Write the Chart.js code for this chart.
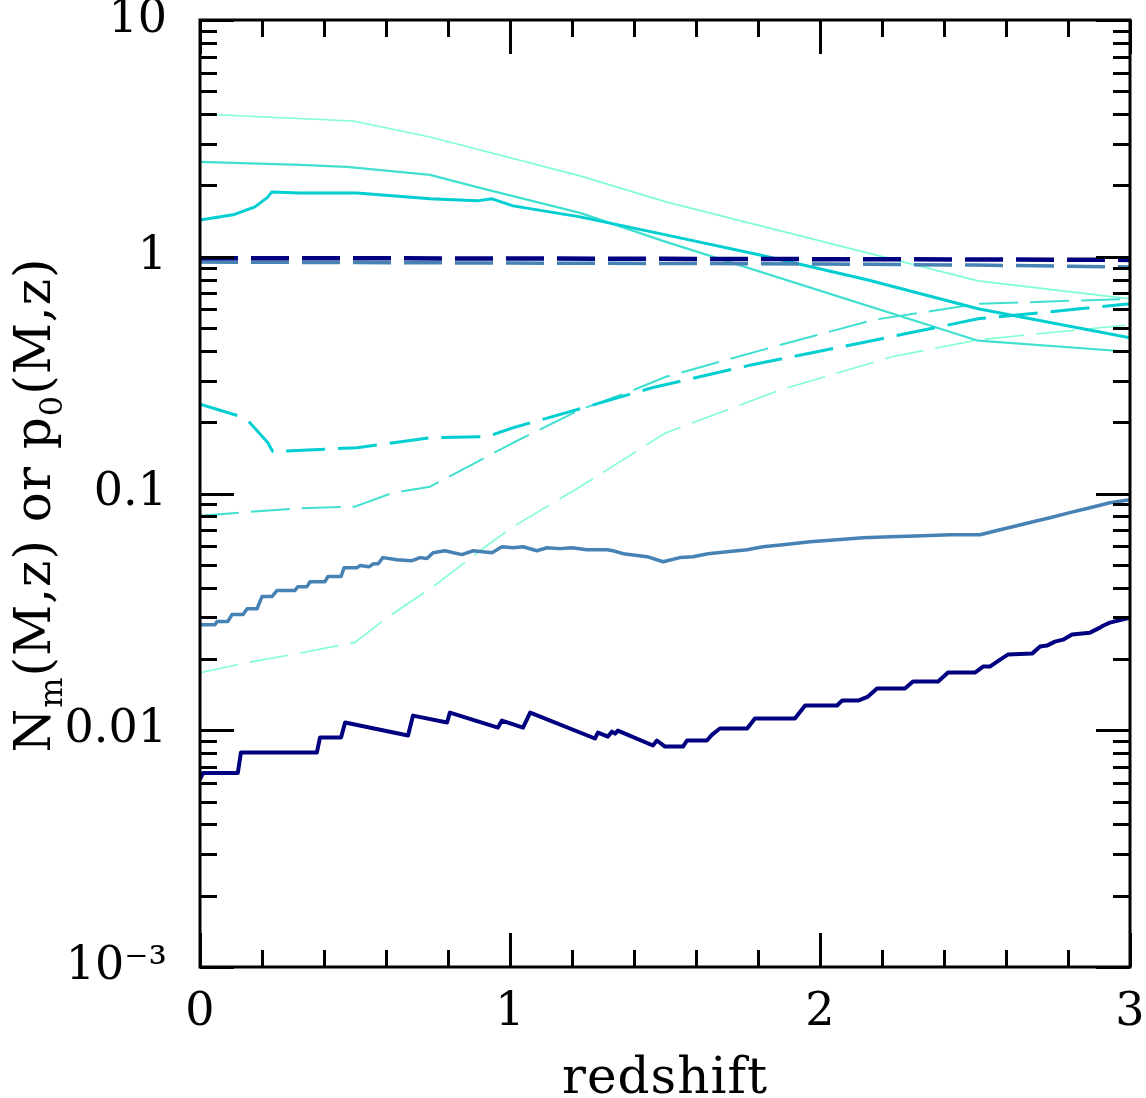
<!DOCTYPE html>
<html>
<head>
<meta charset="utf-8">
<script src="https://cdn.jsdelivr.net/npm/chart.js@4.4.1/dist/chart.umd.min.js"></script>
<style>
  html, body { margin: 0; padding: 0; background: #ffffff; }
  #wrap { width: 1146px; height: 1098px; }
</style>
</head>
<body>
<div id="wrap"><canvas id="c" width="1146" height="1098"></canvas></div>
<script>
// ---------------- data ----------------
// redshift grid for each curve and the values along it
const navySolidZ = [0, 0.01, 0.122, 0.132, 0.377, 0.387, 0.455, 0.468, 0.671, 0.687, 0.797, 0.806, 0.961, 0.974, 1.042, 1.065, 1.274, 1.284, 1.316, 1.329, 1.339, 1.348, 1.461, 1.474, 1.5, 1.558, 1.571, 1.635, 1.652, 1.677, 1.765, 1.79, 1.919, 1.952, 2.055, 2.071, 2.123, 2.155, 2.184, 2.274, 2.3, 2.381, 2.413, 2.5, 2.526, 2.548, 2.581, 2.606, 2.684, 2.71, 2.732, 2.758, 2.784, 2.813, 2.871, 2.903, 2.913, 2.935, 3.0];
const navySolidV = [0.0062, 0.0066, 0.0066, 0.00805, 0.00805, 0.00931, 0.00931, 0.01078, 0.0095, 0.01153, 0.01078, 0.01188, 0.01026, 0.01099, 0.01026, 0.01188, 0.00923, 0.00978, 0.0094, 0.00987, 0.00967, 0.00997, 0.00862, 0.00905, 0.00853, 0.00853, 0.00905, 0.00905, 0.00959, 0.01017, 0.01017, 0.0112, 0.0112, 0.01272, 0.01272, 0.01335, 0.01335, 0.01388, 0.015, 0.015, 0.01605, 0.01605, 0.01752, 0.01752, 0.01857, 0.01857, 0.01988, 0.02087, 0.02107, 0.02256, 0.02278, 0.02368, 0.02413, 0.02535, 0.02584, 0.02713, 0.02763, 0.02848, 0.02989];

const steelSolidZ = [0, 0.048, 0.055, 0.09, 0.103, 0.139, 0.152, 0.184, 0.2, 0.232, 0.248, 0.306, 0.316, 0.345, 0.355, 0.403, 0.413, 0.455, 0.465, 0.506, 0.516, 0.545, 0.56, 0.575, 0.59, 0.635, 0.684, 0.71, 0.732, 0.752, 0.79, 0.845, 0.881, 0.942, 0.974, 1.01, 1.042, 1.087, 1.119, 1.161, 1.2, 1.248, 1.313, 1.332, 1.365, 1.442, 1.494, 1.548, 1.59, 1.639, 1.7, 1.765, 1.816, 1.881, 1.968, 2.055, 2.139, 2.226, 2.332, 2.419, 2.516, 2.581, 2.635, 2.687, 2.742, 2.806, 2.871, 2.935, 3.0];
const steelSolidV = [0.0279, 0.0279, 0.0288, 0.0288, 0.0308, 0.0308, 0.0326, 0.0326, 0.0367, 0.0367, 0.0389, 0.0389, 0.0404, 0.0404, 0.0424, 0.0424, 0.0446, 0.0446, 0.0486, 0.0486, 0.0496, 0.049, 0.0505, 0.0505, 0.0536, 0.0525, 0.052, 0.0536, 0.0531, 0.0562, 0.0573, 0.0552, 0.0573, 0.0562, 0.0596, 0.059, 0.0596, 0.0573, 0.059, 0.0585, 0.059, 0.0579, 0.0579, 0.0573, 0.0557, 0.0541, 0.0515, 0.0536, 0.0541, 0.0557, 0.0568, 0.0579, 0.0596, 0.0608, 0.0626, 0.0638, 0.0651, 0.0657, 0.0663, 0.067, 0.067, 0.0703, 0.0731, 0.076, 0.079, 0.083, 0.0871, 0.0914, 0.0941];

const navyDashZ = [0, 0.5, 1, 1.5, 2, 2.5, 3];
const navyDashV = [0.986, 0.985, 0.983, 0.98, 0.977, 0.974, 0.97];

const steelDashZ = [0, 0.5, 1, 1.5, 2, 2.5, 3];
const steelDashV = [0.95, 0.945, 0.94, 0.937, 0.932, 0.922, 0.905];

const cyanSolidZ = [0, 0.107, 0.177, 0.216, 0.232, 0.323, 0.506, 0.742, 0.894, 0.942, 1.01, 1.226, 1.503, 1.803, 2.152, 2.51, 3.0];
const cyanSolidV = [1.43, 1.503, 1.624, 1.773, 1.879, 1.861, 1.861, 1.756, 1.722, 1.756, 1.64, 1.474, 1.237, 1.019, 0.799, 0.603, 0.455];

const turqSolidZ = [0, 0.323, 0.474, 0.742, 0.903, 1.226, 1.503, 2.51, 3.0];
const turqSolidV = [2.515, 2.443, 2.396, 2.217, 1.954, 1.532, 1.156, 0.442, 0.397];

const aquaSolidZ = [0, 0.494, 0.742, 1.226, 1.503, 2.51, 3.0];
const aquaSolidV = [4.011, 3.747, 3.207, 2.196, 1.705, 0.791, 0.664];

const cyanDashZ = [0, 0.123, 0.161, 0.219, 0.235, 0.506, 0.742, 0.926, 1.01, 1.226, 1.458, 1.781, 2.103, 2.51, 3.0];
const cyanDashV = [0.2386, 0.213, 0.199, 0.1638, 0.1501, 0.1561, 0.172, 0.1737, 0.1896, 0.228, 0.2797, 0.3498, 0.4247, 0.5468, 0.6326];

const turqDashZ = [0, 0.129, 0.3, 0.5, 0.623, 0.742, 0.797, 1.01, 1.226, 1.4, 1.503, 1.874, 2.174, 2.51, 3.0];
const turqDashV = [0.0806, 0.083, 0.0863, 0.088, 0.1008, 0.1068, 0.1166, 0.1638, 0.2258, 0.2743, 0.3112, 0.4247, 0.5416, 0.6326, 0.664];

const aquaDashZ = [0, 0.152, 0.332, 0.5, 0.603, 0.752, 0.903, 1.01, 1.226, 1.503, 1.874, 2.232, 2.51, 3.0];
const aquaDashV = [0.0175, 0.0193, 0.0213, 0.0235, 0.0299, 0.0404, 0.0573, 0.0724, 0.1068, 0.1805, 0.2743, 0.3779, 0.4458, 0.516];

// tick labels
const xTickValues = [0, 1, 2, 3];
const yTickValues = [0.001, 0.01, 0.1, 1, 10];
const yTickLabels = ['10\u207B\u00B3', '0.01', '0.1', '1', '10'];
const xTitle = 'redshift';

// ---------------- chart ----------------
const FONT = "'DejaVu Serif', 'Liberation Serif', serif";
const pts = (zs, vs) => zs.map((z, i) => ({ x: z, y: vs[i] }));

function ds(zs, vs, color, width, dash) {
  return {
    data: pts(zs, vs),
    borderColor: color,
    backgroundColor: color,
    borderWidth: width,
    borderDash: dash || [],
    pointRadius: 0,
    tension: 0,
    fill: false
  };
}

const datasets = [
  ds(navyDashZ, navyDashV, '#000080', 4.5, [38, 13]),
  ds(steelDashZ, steelDashV, '#4682B4', 3.5, [38, 13]),
  ds(navySolidZ, navySolidV, '#000080', 4),
  ds(steelSolidZ, steelSolidV, '#4682B4', 3.5),
  ds(cyanSolidZ, cyanSolidV, '#00CED1', 3),
  ds(cyanDashZ, cyanDashV, '#00CED1', 3, [39, 13]),
  ds(turqSolidZ, turqSolidV, '#40E0D0', 2.2),
  ds(turqDashZ, turqDashV, '#40E0D0', 2, [39, 12]),
  ds(aquaSolidZ, aquaSolidV, '#7FFFD4', 1.6),
  ds(aquaDashZ, aquaDashV, '#7FFFD4', 1.6, [39, 12])
];

const framePlugin = {
  id: 'frame',
  afterDatasetsDraw(chart) {
    const { ctx, chartArea: a, scales } = chart;
    const xs = scales.x, ys = scales.y;
    ctx.save();
    ctx.strokeStyle = '#000';
    ctx.lineWidth = 3;
    ctx.lineCap = 'butt';
    ctx.beginPath();
    // x ticks every 0.2, major at integers
    for (let i = 0; i <= 15; i++) {
      const v = i * 0.2;
      const p = Math.round(xs.getPixelForValue(v)) + 0.5;
      const len = (i % 5 === 0) ? 34 : 17;
      ctx.moveTo(p, a.bottom); ctx.lineTo(p, a.bottom - len);
      ctx.moveTo(p, a.top); ctx.lineTo(p, a.top + len);
    }
    // y ticks 1..9 per decade
    for (let d = -3; d <= 1; d++) {
      for (let k = 1; k <= 9; k++) {
        const v = k * Math.pow(10, d);
        if (v < 0.001 * 0.999 || v > 10 * 1.001) continue;
        const p = Math.round(ys.getPixelForValue(v)) + 0.5;
        const len = (k === 1) ? 34 : 17;
        ctx.moveTo(a.left, p); ctx.lineTo(a.left + len, p);
        ctx.moveTo(a.right, p); ctx.lineTo(a.right - len, p);
      }
    }
    ctx.stroke();
    ctx.strokeRect(a.left, a.top, a.right - a.left, a.bottom - a.top);
    ctx.restore();
  },
  afterDraw(chart) {
    const { ctx, chartArea: a } = chart;
    ctx.save();
    ctx.fillStyle = '#000';
    try { ctx.letterSpacing = '1px'; } catch (e) {}
    // x title
    ctx.font = "50px " + FONT;
    ctx.textAlign = 'center';
    ctx.textBaseline = 'alphabetic';
    ctx.fillText(xTitle, (a.left + a.right) / 2, 1093);
    // y title with subscripts, rotated
    const main = "50px " + FONT, sub = "32px " + FONT;
    const parts = [['N', main, 0], ['m', sub, 12], ['(M,z) or p', main, 0], ['0', sub, 12], ['(M,z)', main, 0]];
    let total = 0;
    parts.forEach(p => { ctx.font = p[1]; total += ctx.measureText(p[0]).width; });
    ctx.translate(50, 505);
    ctx.rotate(-Math.PI / 2);
    ctx.textAlign = 'left';
    let x = -total / 2;
    parts.forEach(p => {
      ctx.font = p[1];
      ctx.fillText(p[0], x, p[2]);
      x += ctx.measureText(p[0]).width;
    });
    ctx.restore();
  }
};

new Chart(document.getElementById('c'), {
  type: 'line',
  data: { datasets },
  options: {
    responsive: false,
    animation: false,
    devicePixelRatio: 1,
    layout: { padding: { left: 0, top: 20, right: 16, bottom: 0 } },
    plugins: { legend: { display: false }, tooltip: { enabled: false }, title: { display: false } },
    elements: { line: { borderCapStyle: 'butt', borderJoinStyle: 'round' } },
    scales: {
      x: {
        type: 'linear', min: 0, max: 3, position: 'bottom',
        afterBuildTicks: s => { s.ticks = xTickValues.map(v => ({ value: v })); },
        ticks: { color: '#000', font: { family: FONT, size: 46 }, padding: 18, maxRotation: 0,
                 callback: v => String(v) },
        grid: { display: false, drawTicks: false },
        border: { display: false },
        afterFit: s => { s.height = 131; s.paddingLeft = 0; s.paddingRight = 0; }
      },
      y: {
        type: 'logarithmic', min: 0.001, max: 10, position: 'left',
        afterBuildTicks: s => { s.ticks = yTickValues.map(v => ({ value: v })); },
        ticks: { color: '#000', font: { family: FONT, size: 46 }, padding: 33,
                 callback: (v) => { const i = yTickValues.findIndex(t => Math.abs(t - v) / t < 1e-6); return i >= 0 ? yTickLabels[i] : ''; } },
        grid: { display: false, drawTicks: false },
        border: { display: false },
        afterFit: s => { s.width = 200; s.paddingTop = 0; s.paddingBottom = 0; }
      }
    }
  },
  plugins: [framePlugin]
});
</script>
</body>
</html>
